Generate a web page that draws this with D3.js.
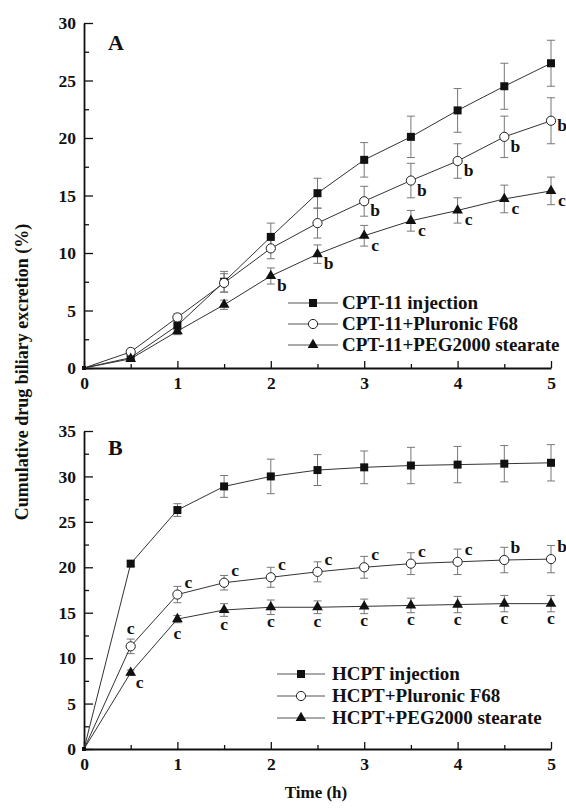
<!DOCTYPE html>
<html>
<head>
<meta charset="utf-8">
<script src="https://cdn.jsdelivr.net/npm/d3@7"></script>
<style>
  html, body { margin: 0; padding: 0; background: #fff; }
  svg { display: block; }
  text { font-family: "Liberation Serif", "Times New Roman", serif; font-weight: bold; fill: #111; }
</style>
</head>
<body>
<svg id="chart" width="566" height="808"></svg>
<script>
// ---------- data ----------
const times = [0, 0.5, 1, 1.5, 2, 2.5, 3, 3.5, 4, 4.5, 5];

// Panel A (CPT-11)
const seriesNamesA = ["CPT-11 injection", "CPT-11+Pluronic F68", "CPT-11+PEG2000 stearate"];
const injA     = [0, 0.9, 3.7, 7.5, 11.4, 15.2, 18.1, 20.1, 22.4, 24.5, 26.5];
const injErrA  = [0, 0.2, 0.4, 0.9, 1.2, 1.3, 1.5, 1.8, 1.9, 2.0, 2.0];
const pluA     = [0, 1.4, 4.4, 7.4, 10.4, 12.6, 14.5, 16.3, 18.0, 20.1, 21.5];
const pluErrA  = [0, 0.2, 0.3, 0.8, 0.9, 1.3, 1.3, 1.5, 1.5, 1.8, 2.0];
const pegA     = [0, 0.8, 3.2, 5.5, 8.0, 9.9, 11.5, 12.8, 13.7, 14.7, 15.4];
const pegErrA  = [0, 0.2, 0.3, 0.4, 0.7, 0.8, 0.9, 0.9, 1.1, 1.2, 1.2];
const injSigA  = ["", "", "", "", "", "", "", "", "", "", ""];
const pluSigA  = ["", "", "", "", "", "", "b", "b", "b", "b", "b"];
const pegSigA  = ["", "", "", "", "b", "b", "c", "c", "c", "c", "c"];
const yTicksA  = [0, 5, 10, 15, 20, 25, 30];

// Panel B (HCPT)
const seriesNamesB = ["HCPT injection", "HCPT+Pluronic F68", "HCPT+PEG2000 stearate"];
const injB     = [0, 20.4, 26.3, 28.9, 30.0, 30.7, 31.0, 31.2, 31.3, 31.4, 31.5];
const injErrB  = [0, 0.3, 0.7, 1.2, 1.9, 1.7, 1.8, 2.0, 2.0, 2.0, 2.0];
const pluB     = [0, 11.3, 17.0, 18.3, 18.9, 19.5, 20.0, 20.4, 20.6, 20.8, 20.9];
const pluErrB  = [0, 0.8, 0.9, 0.8, 1.1, 1.1, 1.2, 1.2, 1.4, 1.4, 1.5];
const pegB     = [0, 8.4, 14.3, 15.3, 15.6, 15.6, 15.7, 15.8, 15.9, 16.0, 16.0];
const pegErrB  = [0, 0.3, 0.4, 0.7, 0.8, 0.7, 0.8, 0.8, 0.9, 0.9, 0.9];
const injSigB  = ["", "", "", "", "", "", "", "", "", "", ""];
const pluSigB  = ["", "c", "c", "c", "c", "c", "c", "c", "c", "b", "b"];
const pegSigB  = ["", "c", "c", "c", "c", "c", "c", "c", "c", "c", "c"];
const yTicksB  = [0, 5, 10, 15, 20, 25, 30, 35];

const xTicks = [0, 1, 2, 3, 4, 5];
const xLabel = "Time (h)";
const yLabel = "Cumulative drug biliary excretion (%)";

// ---------- drawing ----------
const svg = d3.select("#chart");
const X0 = 84, X1 = 551;

const panels = [
  { name: "A", top: 23, bottom: 368, ymax: 30, yTicks: yTicksA, names: seriesNamesA,
    series: [
      { v: injA, e: injErrA, s: injSigA, mark: "square" },
      { v: pluA, e: pluErrA, s: pluSigA, mark: "circle" },
      { v: pegA, e: pegErrA, s: pegSigA, mark: "triangle" }
    ],
    legend: { x0: 288, x1: 338, xs: 313, xt: 342, ys: [303, 324, 345] },
    labelY: 50
  },
  { name: "B", top: 431, bottom: 749, ymax: 35, yTicks: yTicksB, names: seriesNamesB,
    series: [
      { v: injB, e: injErrB, s: injSigB, mark: "square" },
      { v: pluB, e: pluErrB, s: pluSigB, mark: "circle" },
      { v: pegB, e: pegErrB, s: pegSigB, mark: "triangle" }
    ],
    legend: { x0: 277, x1: 325, xs: 301, xt: 332, ys: [674, 696, 718] },
    labelY: 455
  }
];

function drawMarker(g, type, cx, cy) {
  if (type === "square") {
    g.append("rect").attr("x", cx - 4).attr("y", cy - 4).attr("width", 8).attr("height", 8)
      .attr("fill", "#111");
  } else if (type === "circle") {
    g.append("circle").attr("cx", cx).attr("cy", cy).attr("r", 4.6)
      .attr("fill", "#fff").attr("stroke", "#222").attr("stroke-width", 1);
  } else {
    g.append("path").attr("d", d3.symbol(d3.symbolTriangle, 50)())
      .attr("transform", `translate(${cx},${cy})`).attr("fill", "#111");
  }
}

// letter placement rule (center offsets) per panel / marker type
function letterOffset(panel, mark, i) {
  if (panel === "A") {
    if (mark === "circle" && i === 10) return [11, 5];
    return [11, 10];
  }
  if (mark === "circle") return i === 1 ? [0, -17] : [11, -12];
  return i === 1 ? [9, 10] : [0, 15];
}

panels.forEach(p => {
  const x = d3.scaleLinear().domain([0, 5]).range([X0, X1]);
  const y = d3.scaleLinear().domain([0, p.ymax]).range([p.bottom, p.top]);
  const g = svg.append("g");

  // axes
  const yMinor = d3.range(0, p.ymax + 0.01, 2.5).filter(v => v % 5 !== 0);
  const xMinor = d3.range(0.5, 5, 1);

  g.append("g").attr("transform", `translate(${X0},0)`)
    .call(d3.axisLeft(y).tickValues(yMinor).tickSize(-5).tickSizeOuter(0).tickFormat(""))
    .call(a => a.select(".domain").remove())
    .call(a => a.selectAll("line").attr("stroke", "#111").attr("stroke-width", 1.3));
  g.append("g").attr("transform", `translate(0,${p.bottom})`)
    .call(d3.axisBottom(x).tickValues(xMinor).tickSize(-4).tickSizeOuter(0).tickFormat(""))
    .call(a => a.select(".domain").remove())
    .call(a => a.selectAll("line").attr("stroke", "#111").attr("stroke-width", 1.3));

  const ya = g.append("g").attr("transform", `translate(${X0},0)`)
    .call(d3.axisLeft(y).tickValues(p.yTicks).tickSize(-9).tickSizeOuter(0).tickPadding(8).tickFormat(d3.format("d")));
  const xa = g.append("g").attr("transform", `translate(0,${p.bottom})`)
    .call(d3.axisBottom(x).tickValues(xTicks).tickSize(-7).tickSizeOuter(0).tickPadding(9).tickFormat(d3.format("d")));
  [ya, xa].forEach(a => {
    a.select(".domain").attr("stroke", "#111").attr("stroke-width", 1.8);
    a.selectAll("line").attr("stroke", "#111").attr("stroke-width", 1.3);
    a.selectAll("text").attr("font-size", 17.5).attr("font-family", "Liberation Serif")
      .attr("font-weight", "bold").attr("fill", "#111");
  });

  // panel label
  g.append("text").attr("x", 108).attr("y", p.labelY).attr("font-size", 22).text(p.name);

  const line = d3.line().x((d, i) => x(times[i])).y(d => y(d));

  p.series.forEach(s => {
    // error bars
    const eb = g.append("g").attr("stroke", "#777").attr("stroke-width", 1);
    s.v.forEach((v, i) => {
      const err = s.e[i];
      if (!err) return;
      const cx = x(times[i]);
      eb.append("line").attr("x1", cx).attr("x2", cx).attr("y1", y(v - err)).attr("y2", y(v + err));
      eb.append("line").attr("x1", cx - 4).attr("x2", cx + 4).attr("y1", y(v + err)).attr("y2", y(v + err));
      eb.append("line").attr("x1", cx - 4).attr("x2", cx + 4).attr("y1", y(v - err)).attr("y2", y(v - err));
    });
  });
  p.series.forEach(s => {
    g.append("path").datum(s.v).attr("d", line).attr("fill", "none")
      .attr("stroke", "#333").attr("stroke-width", 1);
  });
  p.series.forEach(s => {
    const mg = g.append("g");
    s.v.forEach((v, i) => { if (i > 0) drawMarker(mg, s.mark, x(times[i]), y(v)); });
    s.s.forEach((lab, i) => {
      if (!lab) return;
      const [dx, dy] = letterOffset(p.name, s.mark, i);
      g.append("text").attr("x", x(times[i]) + dx).attr("y", y(s.v[i]) + dy + 5)
        .attr("text-anchor", "middle").attr("font-size", 17.5).text(lab);
    });
  });
  // origin marker
  g.append("rect").attr("x", X0 - 2).attr("y", p.bottom - 2).attr("width", 4).attr("height", 4).attr("fill", "#111");

  // legend
  const L = p.legend;
  p.series.forEach((s, k) => {
    const yy = L.ys[k];
    g.append("line").attr("x1", L.x0).attr("x2", L.x1).attr("y1", yy).attr("y2", yy)
      .attr("stroke", "#555").attr("stroke-width", 1);
    drawMarker(g, s.mark, L.xs, yy);
    g.append("text").attr("x", L.xt).attr("y", yy + 6).attr("font-size", 19).text(p.names[k]);
  });
});

// axis titles
svg.append("text").attr("x", 316).attr("y", 798).attr("text-anchor", "middle")
  .attr("font-size", 17).text(xLabel);
svg.append("text").attr("transform", "translate(28,372) rotate(-90)")
  .attr("text-anchor", "middle").attr("font-size", 18).text(yLabel);
</script>
</body>
</html>
